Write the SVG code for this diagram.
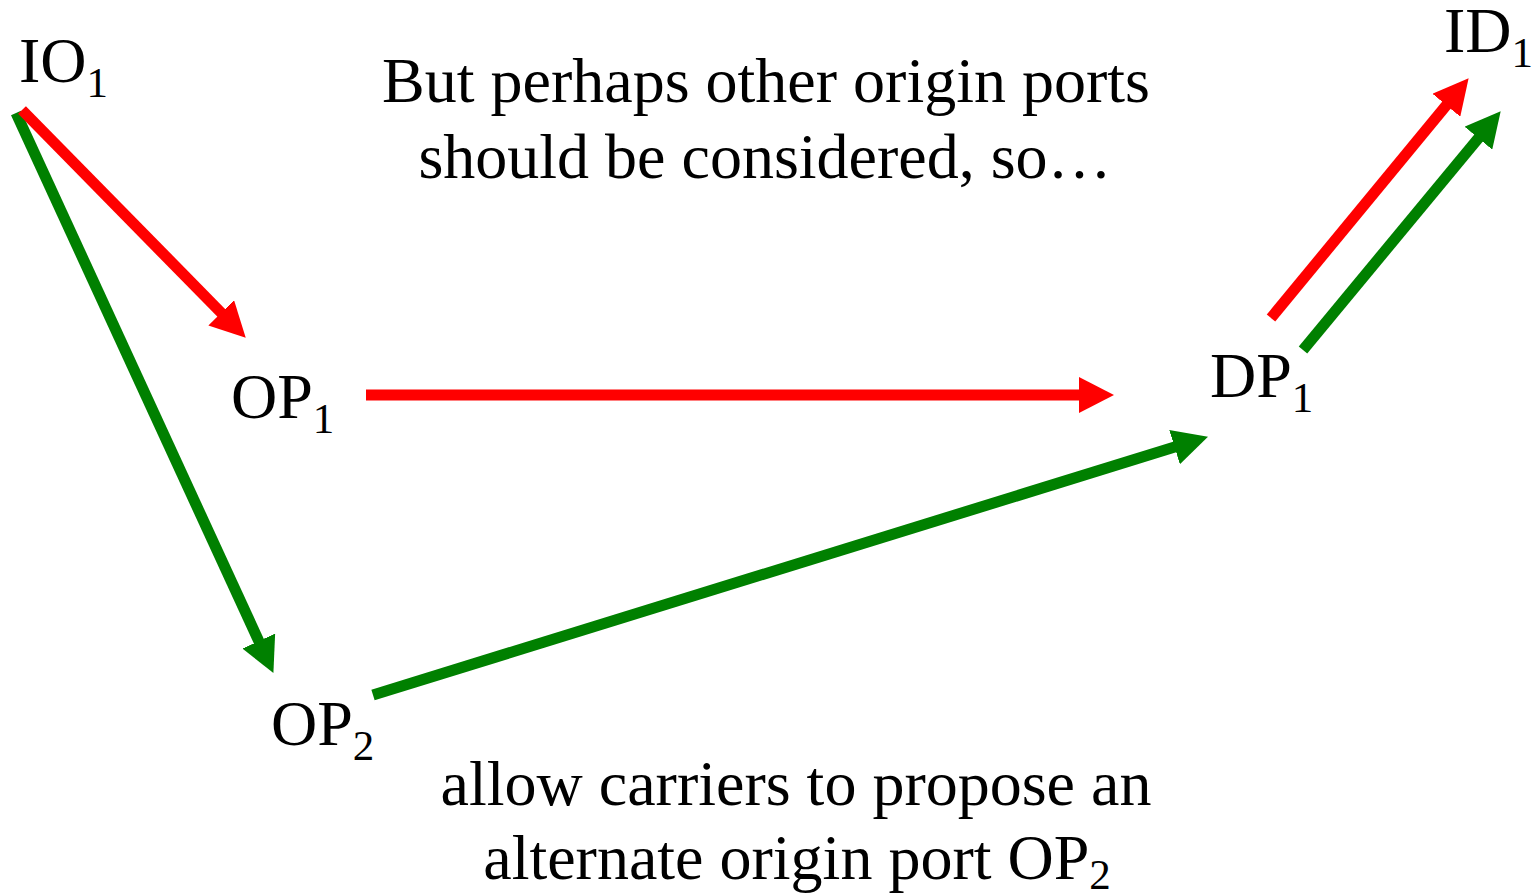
<svg xmlns="http://www.w3.org/2000/svg" width="1534" height="893" viewBox="0 0 1534 893">
<style>
text{font-family:"Liberation Serif","Times New Roman",serif;fill:#000;font-size:64px}
.sub{font-size:43px}
.r{stroke:#ff0000;stroke-width:11;fill:none;marker-end:url(#hr)}
.g{stroke:#008000;stroke-width:11;fill:none;marker-end:url(#hg)}
</style>
<defs>
<marker id="hr" markerUnits="userSpaceOnUse" markerWidth="36" markerHeight="36" viewBox="0 -18 36 36" refX="1" refY="0" orient="auto"><path d="M0,-18 L35,0 L0,18 z" fill="#ff0000"/></marker>
<marker id="hg" markerUnits="userSpaceOnUse" markerWidth="36" markerHeight="36" viewBox="0 -18 36 36" refX="1" refY="0" orient="auto"><path d="M0,-18 L35,0 L0,18 z" fill="#008000"/></marker>
</defs>
<rect width="1534" height="893" fill="#fff"/>
<g id="connectors">
<line class="g" x1="16" y1="113" x2="259.2" y2="642"/>
<line class="r" x1="22" y1="110" x2="221.9" y2="313.5"/>
<line class="r" x1="366" y1="395" x2="1080" y2="395"/>
<line class="g" x1="373" y1="695" x2="1175.5" y2="446.8"/>
<line class="r" x1="1271" y1="318" x2="1447" y2="104.5"/>
<line class="g" x1="1303" y1="350" x2="1479" y2="137.4"/>
</g>
<g id="IO1"><text x="19" y="82">IO<tspan class="sub" dy="15">1</tspan></text></g>
<g id="OP1"><text x="231" y="418">OP<tspan class="sub" dy="15">1</tspan></text></g>
<g id="OP2"><text x="271" y="745">OP<tspan class="sub" dy="15">2</tspan></text></g>
<g id="DP1"><text x="1210" y="397">DP<tspan class="sub" dy="15">1</tspan></text></g>
<g id="ID1"><text x="1444" y="52">ID<tspan class="sub" dy="15">1</tspan></text></g>
<g id="note-top">
<text x="766" y="102" text-anchor="middle">But perhaps other origin ports</text>
<text x="765" y="178" text-anchor="middle">should be considered, so…</text>
</g>
<g id="note-bottom">
<text x="796" y="805" text-anchor="middle">allow carriers to propose an</text>
<text x="797" y="879" text-anchor="middle">alternate origin port OP<tspan class="sub" dy="10">2</tspan></text>
</g>
</svg>
